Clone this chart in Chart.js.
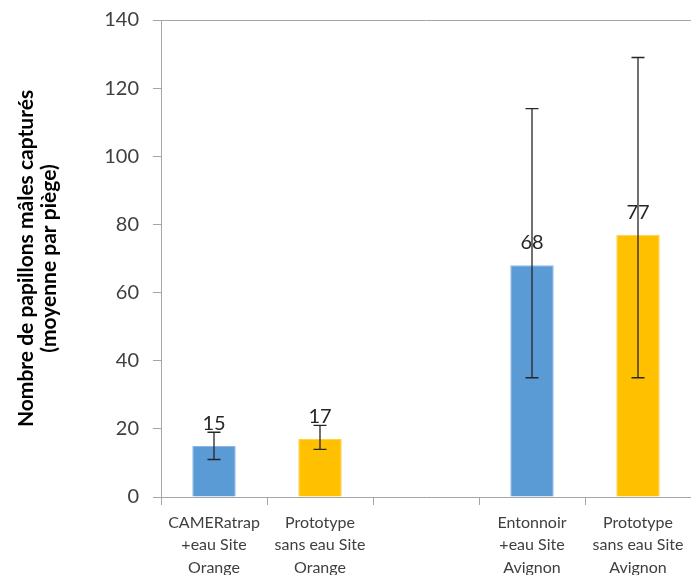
<!DOCTYPE html>
<html>
<head>
<meta charset="utf-8">
<script src="https://cdn.jsdelivr.net/npm/chart.js@4.4.1/dist/chart.umd.min.js"></script>
<style>
  html, body { margin: 0; padding: 0; background: #fff; }
  #wrap { width: 691px; height: 575px; }
</style>
</head>
<body>
<div id="wrap"><canvas id="trapChart" width="691" height="575"></canvas></div>
<script>
// Data
const categories = [
    ['CAMERatrap', '+eau Site', 'Orange'],
    ['Prototype', 'sans eau Site', 'Orange'],
    '',
    ['Entonnoir', '+eau Site', 'Avignon'],
    ['Prototype', 'sans eau Site', 'Avignon']
];
const means = [15, 17, null, 68, 77];
const errLow = [11, 14, null, 35, 35];
const errHigh = [19, 21, null, 114, 129];
const barColors = ['#5B9BD5', '#FFC000', '#5B9BD5', '#5B9BD5', '#FFC000'];
const barBorders = ['#8DB8E2', '#FFD24D', '#8DB8E2', '#8DB8E2', '#FFD24D'];
const yTicks = [0, 20, 40, 60, 80, 100, 120, 140];

const FONT = 'Lato, "Open Sans", sans-serif';
const AXIS_GREY = '#a6a6a6';

// error bars + value labels, drawn through the chart scales
const errorBarPlugin = {
    id: 'errorBars',
    afterDatasetsDraw(chart) {
        const ctx = chart.ctx;
        const y = chart.scales.y;
        const meta = chart.getDatasetMeta(0);
        ctx.save();
        meta.data.forEach((bar, i) => {
            if (means[i] == null) return;
            const x = bar.x;
            const yLo = y.getPixelForValue(errLow[i]);
            const yHi = y.getPixelForValue(errHigh[i]);
            ctx.strokeStyle = '#262626';
            ctx.lineWidth = 1.3;
            ctx.beginPath();
            ctx.moveTo(x, yLo); ctx.lineTo(x, yHi);
            ctx.moveTo(x - 6.5, yLo); ctx.lineTo(x + 6.5, yLo);
            ctx.moveTo(x - 6.5, yHi); ctx.lineTo(x + 6.5, yHi);
            ctx.stroke();

            ctx.fillStyle = '#262626';
            ctx.font = '20px ' + FONT;
            ctx.textAlign = 'center';
            ctx.textBaseline = 'alphabetic';
            ctx.fillText(String(means[i]), x, bar.y - 16);
        });
        ctx.restore();
    }
};

new Chart(document.getElementById('trapChart'), {
    type: 'bar',
    data: {
        labels: categories,
        datasets: [{
            data: means,
            backgroundColor: barColors,
            borderColor: barBorders,
            borderWidth: 1,
            categoryPercentage: 1,
            barPercentage: 0.41
        }]
    },
    options: {
        responsive: false,
        animation: false,
        layout: { padding: { top: 20, right: 0, left: 0, bottom: 0 } },
        plugins: {
            legend: { display: false },
            tooltip: { enabled: false }
        },
        scales: {
            y: {
                min: 0,
                max: 140,
                afterBuildTicks: (scale) => { scale.ticks = yTicks.map(v => ({ value: v })); },
                afterFit: (scale) => {
                    scale.width = 161;
                    scale.paddingTop = 0;
                    scale.paddingBottom = 0;
                },
                border: { color: AXIS_GREY, width: 1 },
                grid: {
                    drawOnChartArea: true,
                    color: (c) => (c.tick && c.tick.value === 140 ? AXIS_GREY : 'rgba(0,0,0,0)'),
                    tickColor: AXIS_GREY,
                    tickLength: 8
                },
                ticks: {
                    color: '#404040',
                    padding: 14,
                    font: { family: FONT, size: 20 }
                },
                title: {
                    display: true,
                    text: ['Nombre de papillons mâles capturés', '(moyenne par piège)'],
                    color: '#000',
                    padding: { top: 15, bottom: 0 },
                    font: { family: FONT, size: 21, weight: 'bold', lineHeight: 1.1 }
                }
            },
            x: {
                afterFit: (scale) => { scale.height = 78; },
                border: { color: AXIS_GREY, width: 1 },
                grid: {
                    offset: true,
                    drawOnChartArea: false,
                    color: AXIS_GREY,
                    tickLength: 8
                },
                ticks: {
                    color: '#404040',
                    maxRotation: 0,
                    autoSkip: false,
                    padding: 6,
                    font: { family: FONT, size: 16, lineHeight: 1.42 }
                }
            }
        }
    },
    plugins: [errorBarPlugin]
});
</script>
</body>
</html>
